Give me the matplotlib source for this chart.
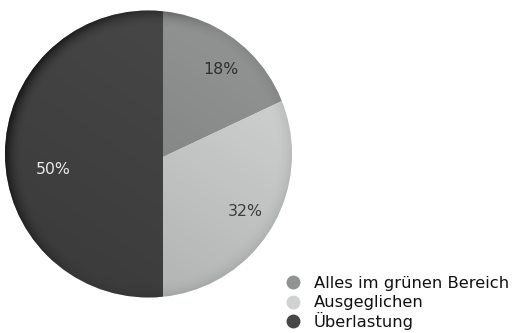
import matplotlib
matplotlib.use("Agg")
import numpy as np
import matplotlib.pyplot as plt
from matplotlib.patches import Circle

# Workload distribution
labels = ["Alles im grünen Bereich", "Ausgeglichen", "Überlastung"]
shares = [18, 32, 50]
colors = ["#919292", "#d0d2d2", "#474747"]
pct_colors = ["#303030", "#3c3c3c", "#e8e8e8"]

plt.rcParams["font.family"] = ["DejaVu Sans"]

W, H = 518, 333
fig = plt.figure(figsize=(W / 100, H / 100), dpi=100)
ax = fig.add_axes([0, 0, 1, 1])

big_r = 330
apex = (163, H - 157)
wedges, _, autotexts = ax.pie(
    shares, colors=colors, startangle=90, counterclock=False,
    center=apex, radius=big_r, autopct="%.0f%%", pctdistance=105 / big_r,
    wedgeprops=dict(linewidth=0), textprops=dict(fontsize=11.3))

# wedges fan out from the apex; the outer rim is a slightly offset circle
cx, cy, R = 148.5, H - 154, 143.5
rim = Circle((cx, cy), R, facecolor="none", edgecolor="none")
ax.add_patch(rim)
for w in wedges:
    w.set_clip_on(True)
    w.set_clip_path(rim)

# soft shading: darker towards the lower left and along the upper-left rim
xx, yy = np.meshgrid(np.arange(W) + 0.5, np.arange(H) + 0.5)
u = (xx - cx) / R
v = (yy - cy) / R
r = np.hypot(u, v)
lin = np.clip(0.5 - 0.5 * (0.55 * u + 0.85 * v), 0, 1)
edge = np.clip((r - 0.88) / 0.12, 0, 1) ** 2
side = np.clip((-0.85 * u + 0.5 * v) / np.maximum(r, 1e-6), 0, 1)
alpha = 0.16 * lin + 0.55 * edge * side + 0.08 * edge
shade = np.zeros((H, W, 4))
shade[..., 3] = np.clip(alpha, 0, 0.8)
img = ax.imshow(shade, extent=(0, W, 0, H), origin="lower",
                interpolation="bilinear", zorder=1.5)
img.set_clip_path(rim)

label_pos = [(221, H - 70), (245, H - 212), (53, H - 170)]
for t, c, p in zip(autotexts, pct_colors, label_pos):
    t.set_color(c)
    t.set_position(p)
    t.set_zorder(3)

# legend: round keys with the category names beside them
row_y = [H - 282, H - 301.5, H - 321]
for lab, col, y in zip(labels, colors, row_y):
    ax.scatter([293], [y], s=100, color=col, linewidths=0, zorder=3)
    ax.text(314, y - 6, lab, fontsize=11.8, color="#111111",
            va="baseline", ha="left")

ax.set_xlim(0, W)
ax.set_ylim(0, H)
ax.set_aspect("equal")
ax.axis("off")

fig.savefig("out.png", dpi=100)
